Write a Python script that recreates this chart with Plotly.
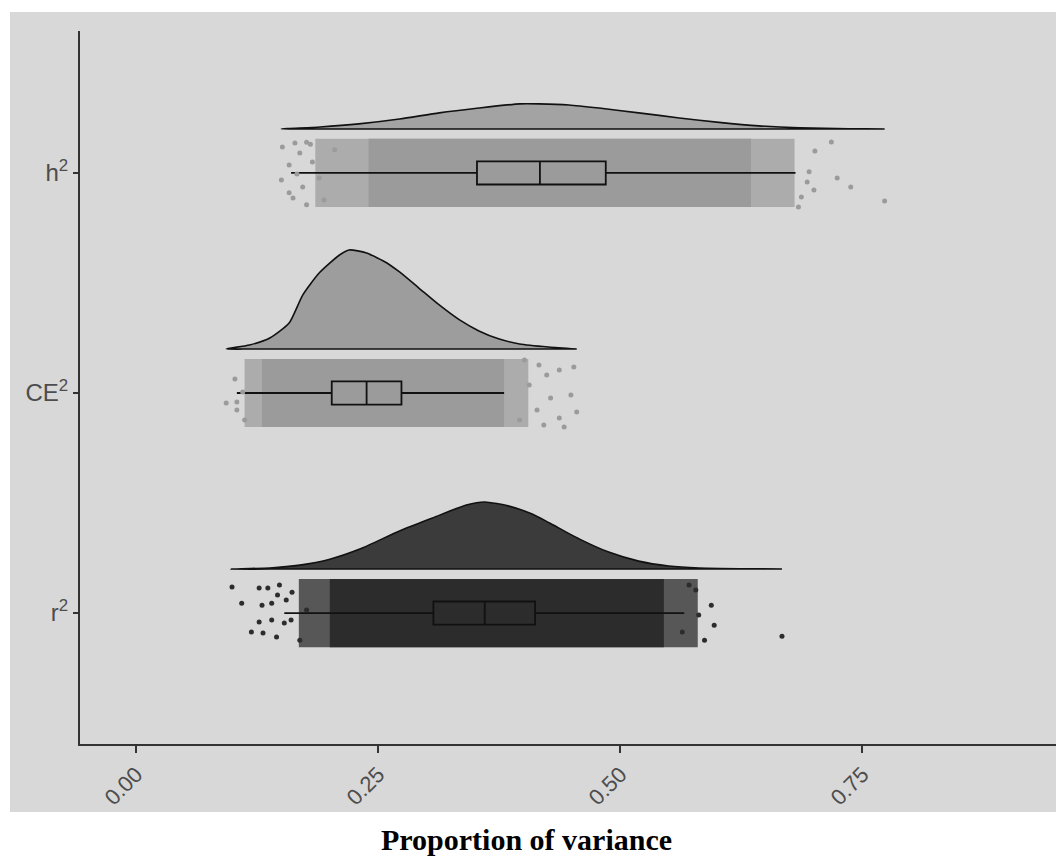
import plotly.graph_objects as go

# ---------------- data ----------------
categories = ["r<sup>2</sup>", "CE<sup>2</sup>", "h<sup>2</sup>"]
tick_vals_x = [0.0, 0.25, 0.50, 0.75]
tick_text_x = ["0.00", "0.25", "0.50", "0.75"]

# density curves (x value, density height in category units)
r2_dens_x = [0.098, 0.138, 0.169, 0.200, 0.231, 0.272, 0.306, 0.341, 0.360, 0.385,
             0.409, 0.427, 0.458, 0.488, 0.519, 0.550, 0.581, 0.667]
r2_dens_h = [0.0, 0.005, 0.018, 0.045, 0.091, 0.173, 0.232, 0.291, 0.305, 0.286,
             0.250, 0.209, 0.136, 0.077, 0.036, 0.014, 0.005, 0.0]

ce2_dens_x = [0.093, 0.117, 0.138, 0.158, 0.172, 0.189, 0.210, 0.220, 0.238, 0.259,
              0.272, 0.292, 0.313, 0.334, 0.354, 0.375, 0.396, 0.426, 0.455]
ce2_dens_h = [0.0, 0.018, 0.050, 0.118, 0.245, 0.345, 0.427, 0.450, 0.436, 0.391,
              0.350, 0.277, 0.200, 0.132, 0.082, 0.045, 0.023, 0.009, 0.0]

h2_dens_x = [0.150, 0.190, 0.230, 0.272, 0.313, 0.354, 0.396, 0.416, 0.447, 0.478,
             0.519, 0.561, 0.602, 0.643, 0.685, 0.736, 0.773]
h2_dens_h = [0.0, 0.009, 0.023, 0.045, 0.073, 0.095, 0.114, 0.114, 0.109, 0.095,
             0.073, 0.050, 0.030, 0.014, 0.005, 0.001, 0.0]

# boxplot statistics (order: r2, CE2, h2)
box_q1 = [0.307, 0.202, 0.352]
box_med = [0.360, 0.238, 0.417]
box_q3 = [0.412, 0.274, 0.485]
box_lo = [0.153, 0.104, 0.160]
box_hi = [0.566, 0.380, 0.681]

# extents of the dense jittered point clouds
core_lo = [0.200, 0.130, 0.240]
core_hi = [0.545, 0.380, 0.635]
fringe_lo = [0.168, 0.112, 0.185]
fringe_hi = [0.580, 0.405, 0.680]

# sparse points at the edges of each cloud (x value, jitter offset)
r2_pts_x = [0.099, 0.109, 0.127, 0.136, 0.148, 0.146, 0.130, 0.140, 0.127, 0.140,
            0.119, 0.131, 0.145, 0.153, 0.160, 0.155, 0.161, 0.169, 0.176,
            0.578, 0.594, 0.597, 0.587, 0.571, 0.581, 0.564, 0.667]
r2_pts_dy = [0.118, 0.045, 0.114, 0.114, 0.127, 0.082, 0.036, 0.045, -0.041, -0.032,
             -0.086, -0.091, -0.109, -0.045, -0.032, 0.059, 0.095, -0.123, 0.014,
             0.105, 0.036, -0.055, -0.123, 0.127, -0.009, -0.086, -0.105]

ce2_pts_x = [0.102, 0.093, 0.104, 0.104, 0.110, 0.112,
             0.401, 0.416, 0.424, 0.437, 0.452, 0.406, 0.428, 0.449, 0.414, 0.437,
             0.455, 0.421, 0.442, 0.396]
ce2_pts_dy = [0.064, -0.045, -0.077, -0.041, 0.005, -0.123,
              0.150, 0.127, 0.082, 0.105, 0.118, 0.036, -0.023, -0.009, -0.077, -0.114,
              -0.086, -0.145, -0.155, -0.123]

h2_pts_x = [0.151, 0.164, 0.150, 0.162, 0.176, 0.169, 0.172, 0.189, 0.182, 0.194,
            0.205, 0.158, 0.158, 0.180, 0.166, 0.176,
            0.718, 0.701, 0.724, 0.738, 0.773, 0.700, 0.693, 0.695, 0.687, 0.684]
h2_pts_dy = [0.118, 0.136, -0.032, -0.114, -0.145, 0.091, -0.064, -0.023, 0.050, -0.123,
             0.105, 0.036, -0.090, 0.130, -0.005, 0.140,
             0.141, 0.100, -0.023, -0.064, -0.127, -0.077, -0.041, 0.005, -0.109, -0.155]

# ---------------- styling ----------------
positions = [1, 2, 3]
dens_offset = 0.2
jitter_half = 0.155
dens_fill = ["#3b3b3b", "#9d9d9d", "#a3a3a3"]
pt_color = ["#2c2c2c", "#9b9b9b", "#9b9b9b"]
fringe_color = ["rgba(44,44,44,0.75)", "rgba(155,155,155,0.72)", "rgba(155,155,155,0.72)"]
bg = "#d8d8d8"

dens_x = [r2_dens_x, ce2_dens_x, h2_dens_x]
dens_h = [r2_dens_h, ce2_dens_h, h2_dens_h]
pts_x = [r2_pts_x, ce2_pts_x, h2_pts_x]
pts_dy = [r2_pts_dy, ce2_pts_dy, h2_pts_dy]

fig = go.Figure()

for i, p in enumerate(positions):
    base = p + dens_offset
    xs = dens_x[i] + dens_x[i][::-1]
    ys = [base + h for h in dens_h[i]] + [base] * len(dens_x[i])
    fig.add_trace(go.Scatter(x=xs, y=ys, mode="lines", fill="toself",
                             fillcolor=dens_fill[i],
                             line=dict(color="#111111", width=1.6, shape="spline", smoothing=0.6),
                             showlegend=False, hoverinfo="skip"))
    fig.add_trace(go.Bar(y=[p], x=[fringe_hi[i] - fringe_lo[i]], base=[fringe_lo[i]],
                         orientation="h", width=2 * jitter_half,
                         marker=dict(color=fringe_color[i], line=dict(width=0)),
                         showlegend=False, hoverinfo="skip"))
    fig.add_trace(go.Bar(y=[p], x=[core_hi[i] - core_lo[i]], base=[core_lo[i]],
                         orientation="h", width=2 * jitter_half,
                         marker=dict(color=pt_color[i], line=dict(width=0)),
                         showlegend=False, hoverinfo="skip"))
    fig.add_trace(go.Scatter(x=pts_x[i], y=[p + d for d in pts_dy[i]], mode="markers",
                             marker=dict(color=pt_color[i], size=5),
                             showlegend=False, hoverinfo="skip"))
    fig.add_trace(go.Box(y=[p], q1=[box_q1[i]], median=[box_med[i]], q3=[box_q3[i]],
                         lowerfence=[box_lo[i]], upperfence=[box_hi[i]],
                         orientation="h", width=0.105, whiskerwidth=0,
                         fillcolor="rgba(0,0,0,0)",
                         line=dict(color="#111111", width=1.8),
                         boxpoints=False, showlegend=False, hoverinfo="skip"))

fig.update_layout(
    width=1056, height=857,
    margin=dict(l=80, r=0, t=31, b=113),
    paper_bgcolor="white",
    plot_bgcolor=bg,
    barmode="overlay",
    showlegend=False,
    font=dict(family="Liberation Sans, Arial, sans-serif", color="#4d4d4d"),
    xaxis=dict(range=[-0.058, 0.95], tickvals=tick_vals_x, ticktext=tick_text_x,
               tickangle=-45, tickfont=dict(size=22, color="#4d4d4d"),
               showline=True, linecolor="#333333", linewidth=2,
               ticks="outside", ticklen=7, tickwidth=2, tickcolor="#333333",
               showgrid=False, zeroline=False),
    yaxis=dict(range=[0.405, 3.645], tickvals=positions, ticktext=categories,
               tickfont=dict(size=24, color="#4d4d4d"),
               showline=True, linecolor="#333333", linewidth=2,
               ticks="outside", ticklen=5, tickwidth=2, tickcolor="#333333",
               showgrid=False, zeroline=False),
    shapes=[dict(type="rect", xref="paper", yref="paper",
                 x0=-70 / 976, x1=1.01, y0=-68 / 713, y1=1 + 19 / 713,
                 fillcolor=bg, line=dict(width=0), layer="below")],
    annotations=[dict(text="Proportion of variance", xref="paper", yref="paper",
                      x=(526 - 80) / 976, y=-95 / 713, xanchor="center", yanchor="middle",
                      showarrow=False,
                      font=dict(family="Liberation Serif, Times New Roman, serif",
                                size=30, color="black", weight="bold"))],
)

fig.write_html("out.html")
